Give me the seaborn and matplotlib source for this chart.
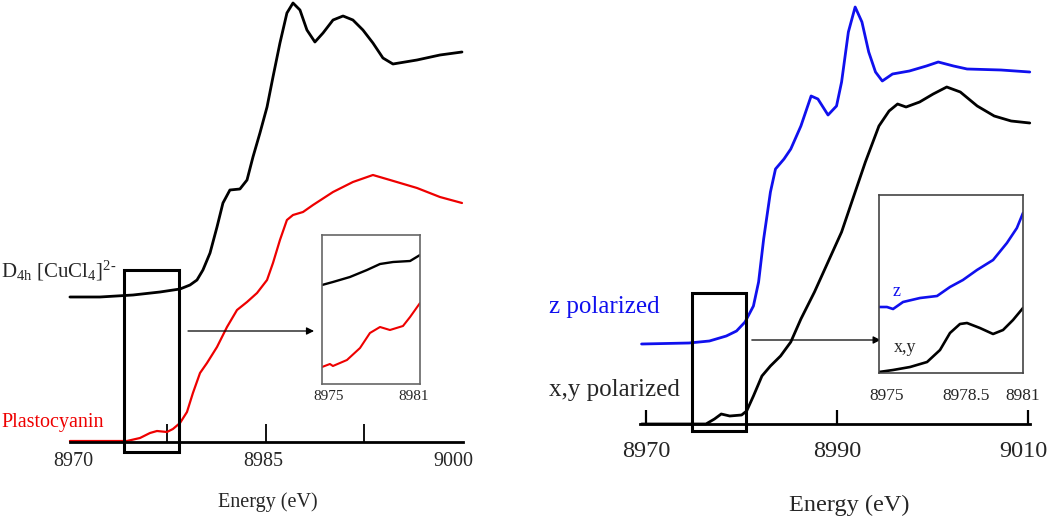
import matplotlib
matplotlib.use("Agg")
import matplotlib.pyplot as plt
import matplotlib.transforms as mtransforms
from matplotlib.patches import Rectangle
import numpy as np
import pandas as pd
import seaborn as sns

# ---------------------------------------------------------------------------
# DATA (energies in eV, absorbance in arbitrary offset units)
# ---------------------------------------------------------------------------
# Left panel: D4h [CuCl4]2- and plastocyanin
cucl4_energy = [8969.76, 8972.13, 8974.74, 8976.87, 8978.45, 8979.24, 8979.79, 8980.26,
                8980.82, 8981.37, 8981.84, 8982.39, 8983.18, 8983.74, 8984.21, 8984.76,
                8985.32, 8985.79, 8986.34, 8986.89, 8987.37, 8987.92, 8988.47, 8989.10,
                8989.74, 8990.53, 8991.32, 8992.10, 8992.89, 8993.68, 8994.47, 8995.26,
                8997.16, 8998.97, 9000.71]
cucl4_abs = [1.45, 1.45, 1.47, 1.50, 1.53, 1.57, 1.62, 1.72, 1.89, 2.15, 2.39, 2.52, 2.53,
             2.62, 2.85, 3.09, 3.35, 3.65, 3.99, 4.29, 4.39, 4.32, 4.12, 4.00, 4.09, 4.22,
             4.26, 4.22, 4.12, 3.99, 3.84, 3.78, 3.82, 3.87, 3.90]

pc_energy = [8969.76, 8974.26, 8975.29, 8976.08, 8976.63, 8977.42, 8977.89, 8978.45,
             8979.00, 8979.47, 8980.03, 8980.58, 8981.37, 8982.16, 8982.95, 8983.74,
             8984.53, 8985.32, 8985.79, 8986.34, 8986.89, 8987.37, 8988.16, 8988.95,
             8990.53, 8992.10, 8993.68, 8995.03, 8997.16, 8998.97, 9000.71]
pc_abs = [0.01, 0.01, 0.04, 0.09, 0.11, 0.10, 0.13, 0.19, 0.30, 0.49, 0.69, 0.79, 0.95,
          1.15, 1.32, 1.40, 1.49, 1.62, 1.79, 2.02, 2.22, 2.27, 2.30, 2.37, 2.50, 2.60,
          2.67, 2.62, 2.54, 2.45, 2.39]

# Left inset: pre-edge zoom
ins1_cucl4_energy = [8974.51, 8975.28, 8976.48, 8977.68, 8978.60, 8979.52, 8980.72, 8981.42]
ins1_cucl4_abs = [0.99, 1.02, 1.07, 1.14, 1.20, 1.22, 1.23, 1.29]
ins1_pc_energy = [8974.51, 8975.07, 8975.28, 8976.27, 8977.19, 8977.89, 8978.60, 8979.30,
                  8980.22, 8980.72, 8981.42]
ins1_pc_abs = [0.17, 0.20, 0.18, 0.24, 0.36, 0.51, 0.57, 0.54, 0.58, 0.67, 0.81]

# Right panel: polarized single-crystal spectra
z_energy = [8969.54, 8974.51, 8976.64, 8978.41, 8979.48, 8980.37, 8981.25, 8981.79,
            8982.32, 8983.03, 8983.56, 8984.45, 8985.16, 8986.22, 8987.29, 8988.00,
            8989.06, 8989.95, 8990.48, 8991.19, 8991.90, 8992.61, 8993.32, 8994.03,
            8994.74, 8995.81, 8997.58, 8999.36, 9000.60, 9002.20, 9003.62, 9007.17,
            9010.18]
z_abs = [0.80, 0.81, 0.83, 0.88, 0.93, 1.02, 1.18, 1.42, 1.85, 2.32, 2.55, 2.65, 2.75,
         2.98, 3.28, 3.25, 3.09, 3.18, 3.42, 3.92, 4.17, 4.02, 3.72, 3.52, 3.43, 3.50,
         3.53, 3.58, 3.62, 3.58, 3.55, 3.54, 3.52]

xy_energy = [8969.54, 8976.28, 8977.17, 8977.88, 8978.77, 8980.01, 8980.54, 8981.25,
             8982.14, 8983.03, 8984.09, 8985.16, 8986.22, 8987.64, 8989.06, 8990.48,
             8991.90, 8992.97, 8994.39, 8995.45, 8996.34, 8997.23, 8998.65, 9000.07,
             9001.49, 9002.91, 9004.68, 9006.46, 9008.23, 9010.18]
xy_abs = [0.00, 0.00, 0.05, 0.10, 0.08, 0.09, 0.13, 0.28, 0.48, 0.58, 0.68, 0.82, 1.05,
          1.32, 1.62, 1.92, 2.32, 2.62, 2.98, 3.13, 3.20, 3.17, 3.22, 3.30, 3.37, 3.32,
          3.18, 3.08, 3.03, 3.01]

# Right inset
ins2_z_energy = [8974.65, 8975.00, 8975.27, 8975.71, 8976.46, 8977.21, 8977.78, 8978.35,
                 8978.97, 8979.68, 8980.29, 8980.73, 8981.00]
ins2_z_abs = [0.66, 0.66, 0.64, 0.71, 0.75, 0.77, 0.86, 0.93, 1.03, 1.13, 1.30, 1.45, 1.60]
ins2_xy_energy = [8974.65, 8975.27, 8976.02, 8976.77, 8977.34, 8977.78, 8978.22, 8978.53,
                  8979.10, 8979.68, 8980.12, 8980.56, 8981.00]
ins2_xy_abs = [0.01, 0.03, 0.06, 0.11, 0.23, 0.40, 0.49, 0.50, 0.45, 0.39, 0.43, 0.53, 0.65]

left_ticks = [8970, 8985, 9000]
left_tick_marks = [8977.4, 8985.2, 8993.0]
right_ticks = [8970, 8990, 9010]
ins1_ticks = [8975, 8981]
ins2_ticks = [8975, 8978.5, 8981]

# ---------------------------------------------------------------------------
# STYLE
# ---------------------------------------------------------------------------
sns.set_style("white")
plt.rcParams["font.family"] = ["Liberation Serif", "DejaVu Serif"]
plt.rcParams["mathtext.fontset"] = "custom"
plt.rcParams["mathtext.rm"] = "Liberation Serif"
plt.rcParams["mathtext.it"] = "Liberation Serif:italic"

W, H = 1050, 519
fig = plt.figure(figsize=(W / 100, H / 100), dpi=100)


def px_axes(x0, y0, x1, y1):
    """Add axes from pixel box (top-left origin)."""
    return fig.add_axes([x0 / W, (H - y1) / H, (x1 - x0) / W, (y1 - y0) / H])


def line(ax, x, y, color, lw):
    df = pd.DataFrame({"E": x, "A": y})
    sns.lineplot(data=df, x="E", y="A", ax=ax, color=color, lw=lw,
                 estimator=None, sort=False, legend=False)
    ax.set_xlabel("")
    ax.set_ylabel("")


def axis_only_bottom(ax):
    for s in ["top", "left", "right"]:
        ax.spines[s].set_visible(False)
    ax.set_yticks([])
    ax.patch.set_alpha(0)


# ---------------------------------------------------------------------------
# LEFT PANEL
# ---------------------------------------------------------------------------
ax1 = px_axes(0, 0, 520, 519)
line(ax1, cucl4_energy, cucl4_abs, "black", 2.0)
line(ax1, pc_energy, pc_abs, "#ee0000", 1.6)
ax1.set_xlim(8964.24, 9005.29)
ax1.set_ylim(-0.77, 4.42)
axis_only_bottom(ax1)
ax1.spines["bottom"].set_position(("data", 0))
ax1.spines["bottom"].set_bounds(8969.76, 9000.79)
ax1.spines["bottom"].set_linewidth(2.0)
ax1.spines["bottom"].set_color("black")
ax1.set_xticks(left_ticks)
ax1.set_xticklabels([str(t) for t in left_ticks])
ax1.set_xticks(left_tick_marks, minor=True)
ax1.tick_params(axis="x", which="major", length=0, pad=7, labelsize=14.5)
ax1.tick_params(axis="x", which="minor", length=13, width=1.3, direction="in",
                color="black", bottom=True)
ax1.text(8985.39, -0.60, "Energy (eV)", ha="center", va="center", fontsize=14.5)
ax1.text(8964.32, 1.71, r"D$_{\mathrm{4h}}$ [CuCl$_{\mathrm{4}}$]$^{\mathrm{2}\text{-}}$",
         ha="left", va="center", fontsize=15)
ax1.text(8964.32, 0.20, "Plastocyanin", ha="left", va="center", fontsize=14.5,
         color="#ee0000")
ax1.add_patch(Rectangle((8974.03, -0.10), 4.34, 1.82, fill=False, lw=2.2,
                        ec="black", clip_on=False, zorder=5))
ax1.annotate("", xy=(8989.03, 1.11), xytext=(8979.08, 1.11),
             arrowprops=dict(arrowstyle="-|>", lw=0.9, color="black",
                             mutation_scale=11, shrinkA=0, shrinkB=0))

# left inset
in1 = px_axes(322, 235, 420, 384)
line(in1, ins1_cucl4_energy, ins1_cucl4_abs, "black", 1.7)
line(in1, ins1_pc_energy, ins1_pc_abs, "#ee0000", 1.5)
in1.set_xlim(8974.51, 8981.42)
in1.set_ylim(0, 1.49)
in1.set_yticks([])
in1.set_xticks(ins1_ticks)
in1.set_xticklabels([str(t) for t in ins1_ticks])
in1.tick_params(axis="x", length=0, pad=4, labelsize=11)
for s in in1.spines.values():
    s.set_color("#666666")
    s.set_linewidth(1.2)

# ---------------------------------------------------------------------------
# RIGHT PANEL
# ---------------------------------------------------------------------------
ax2 = px_axes(520, 0, 1050, 519)
line(ax2, z_energy, z_abs, "#1010ee", 2.0)
line(ax2, xy_energy, xy_abs, "black", 2.0)
ax2.set_xlim(8956.81, 9012.30)
ax2.set_ylim(-0.95, 4.24)
axis_only_bottom(ax2)
ax2.spines["bottom"].set_position(("data", 0))
ax2.spines["bottom"].set_bounds(8969.37, 9010.21)
ax2.spines["bottom"].set_linewidth(2.0)
ax2.spines["bottom"].set_color("black")
ax2.set_xticks(right_ticks)
ax2.set_xticklabels([str(t) for t in right_ticks])
ax2.tick_params(axis="x", length=10, width=1.6, direction="in", color="black",
                pad=12, labelsize=17.5, bottom=True)
# nudge the last label so it stays inside the figure, as in the original
shift = mtransforms.ScaledTranslation(-5 / 100, 0, fig.dpi_scale_trans)
last_lab = ax2.get_xticklabels()[-1]
last_lab.set_transform(last_lab.get_transform() + shift)
ax2.text(8991.26, -0.81, "Energy (eV)", ha="center", va="center", fontsize=17.5)
ax2.text(8959.84, 1.17, "z polarized", ha="left", va="center", fontsize=18,
         color="#1010ee")
ax2.text(8959.84, 0.34, "x,y polarized", ha="left", va="center", fontsize=18)
ax2.add_patch(Rectangle((8974.82, -0.07), 5.65, 1.38, fill=False, lw=2.2,
                        ec="black", clip_on=False, zorder=5))
ax2.annotate("", xy=(8994.57, 0.84), xytext=(8981.08, 0.84),
             arrowprops=dict(arrowstyle="-|>", lw=0.9, color="black",
                             mutation_scale=11, shrinkA=0, shrinkB=0))

# right inset
in2 = px_axes(879, 195, 1023, 373)
line(in2, ins2_z_energy, ins2_z_abs, "#1010ee", 1.9)
line(in2, ins2_xy_energy, ins2_xy_abs, "black", 1.9)
in2.set_xlim(8974.65, 8981.0)
in2.set_ylim(0, 1.78)
in2.set_yticks([])
in2.set_xticks(ins2_ticks)
in2.set_xticklabels(["8975", "8978.5", "8981"])
in2.tick_params(axis="x", length=0, pad=11, labelsize=12.5)
for s in in2.spines.values():
    s.set_color("#444444")
    s.set_linewidth(1.2)
in2.text(8975.44, 0.81, "z", ha="center", va="center", fontsize=13, color="#1010ee")
in2.text(8975.80, 0.25, "x,y", ha="center", va="center", fontsize=13)

fig.savefig("out.png", dpi=100)
